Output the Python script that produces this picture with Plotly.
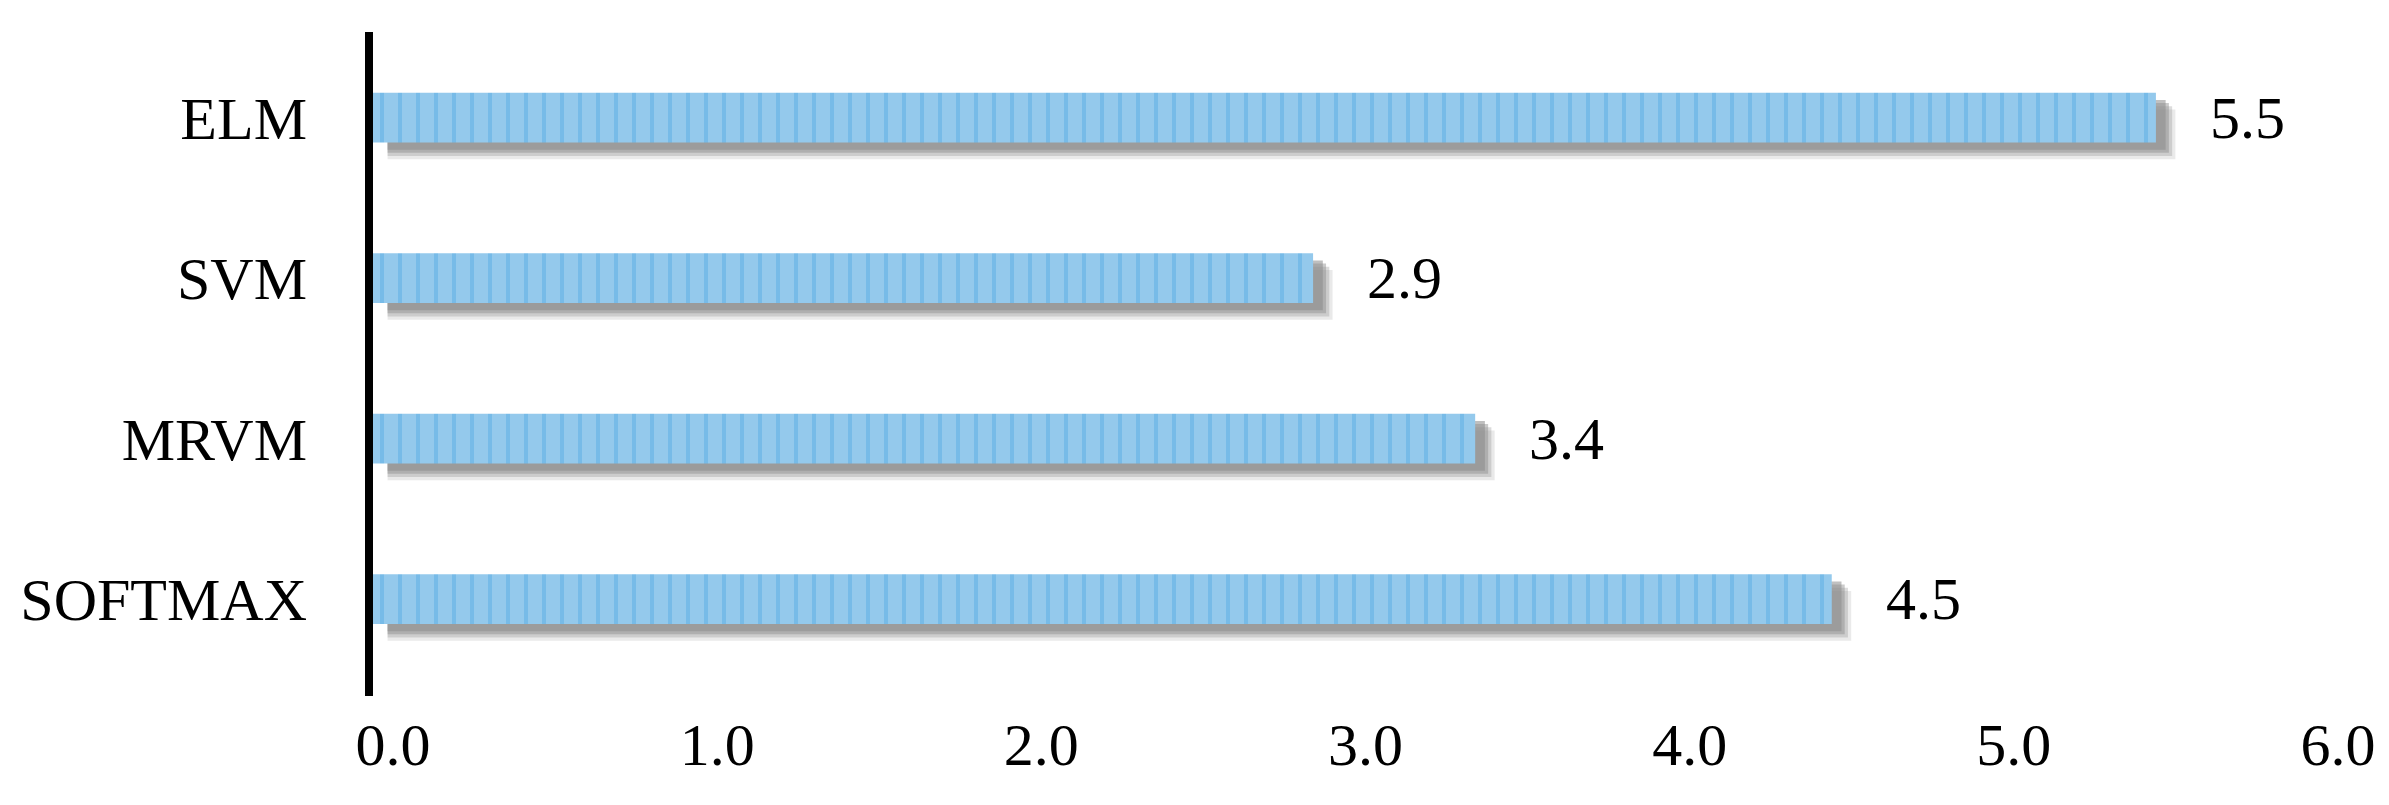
import plotly.graph_objects as go

categories = ["SOFTMAX", "MRVM", "SVM", "ELM"]
values = [4.5, 3.4, 2.9, 5.5]
value_labels = ["4.5", "3.4", "2.9", "5.5"]
x_ticks = [0, 1, 2, 3, 4, 5, 6]
x_ticklabels = ["0.0", "1.0", "2.0", "3.0", "4.0", "5.0", "6.0"]

FONT = "Liberation Serif, Times New Roman, serif"
BAR_W = 0.31

fig = go.Figure()

# soft drop shadow layers (derived from the values)
for shift, extra, op in [(0.105, 0.06, 0.18), (0.085, 0.05, 0.3), (0.065, 0.04, 0.45), (0.045, 0.03, 0.55)]:
    fig.add_trace(go.Bar(
        y=categories, x=[v - 0.045 + extra for v in values], base=0.045,
        orientation="h", width=BAR_W, offset=-BAR_W / 2 - shift,
        marker=dict(color="#8c8c8c", line=dict(width=0)), opacity=op,
        hoverinfo="skip", showlegend=False,
    ))

fig.add_trace(go.Bar(
    y=categories, x=values, orientation="h", width=BAR_W, offset=-BAR_W / 2,
    marker=dict(
        color="#90c6eb",
        line=dict(width=0),
        pattern=dict(shape="|", fgcolor="#5aaee4", bgcolor="#94c9ec", size=18, solidity=0.22),
    ),
    showlegend=False,
))

for c, v, t in zip(categories, values, value_labels):
    fig.add_annotation(x=v, y=c, text=t, showarrow=False, xanchor="left", xshift=52,
                       font=dict(family=FONT, size=60, color="black"))

fig.update_layout(
    width=2389, height=805,
    margin=dict(l=360, r=79, t=24, b=117),
    paper_bgcolor="white", plot_bgcolor="white",
    barmode="overlay",
    font=dict(family=FONT, size=60, color="black"),
)
fig.update_xaxes(
    range=[0, 6], tickvals=x_ticks, ticktext=x_ticklabels,
    showgrid=False, zeroline=False, showline=False, ticks="",
    ticklabelstandoff=8, ticklabelshift=20,
    tickfont=dict(family=FONT, size=60, color="black"),
)
fig.update_yaxes(
    type="category", categoryorder="array", categoryarray=categories,
    range=[-0.604, 3.533],
    showgrid=False, zeroline=False, showline=True, linecolor="black", linewidth=8,
    ticks="", ticklabelstandoff=46, tickfont=dict(family=FONT, size=60, color="black"),
)

fig.write_html("out.html")
